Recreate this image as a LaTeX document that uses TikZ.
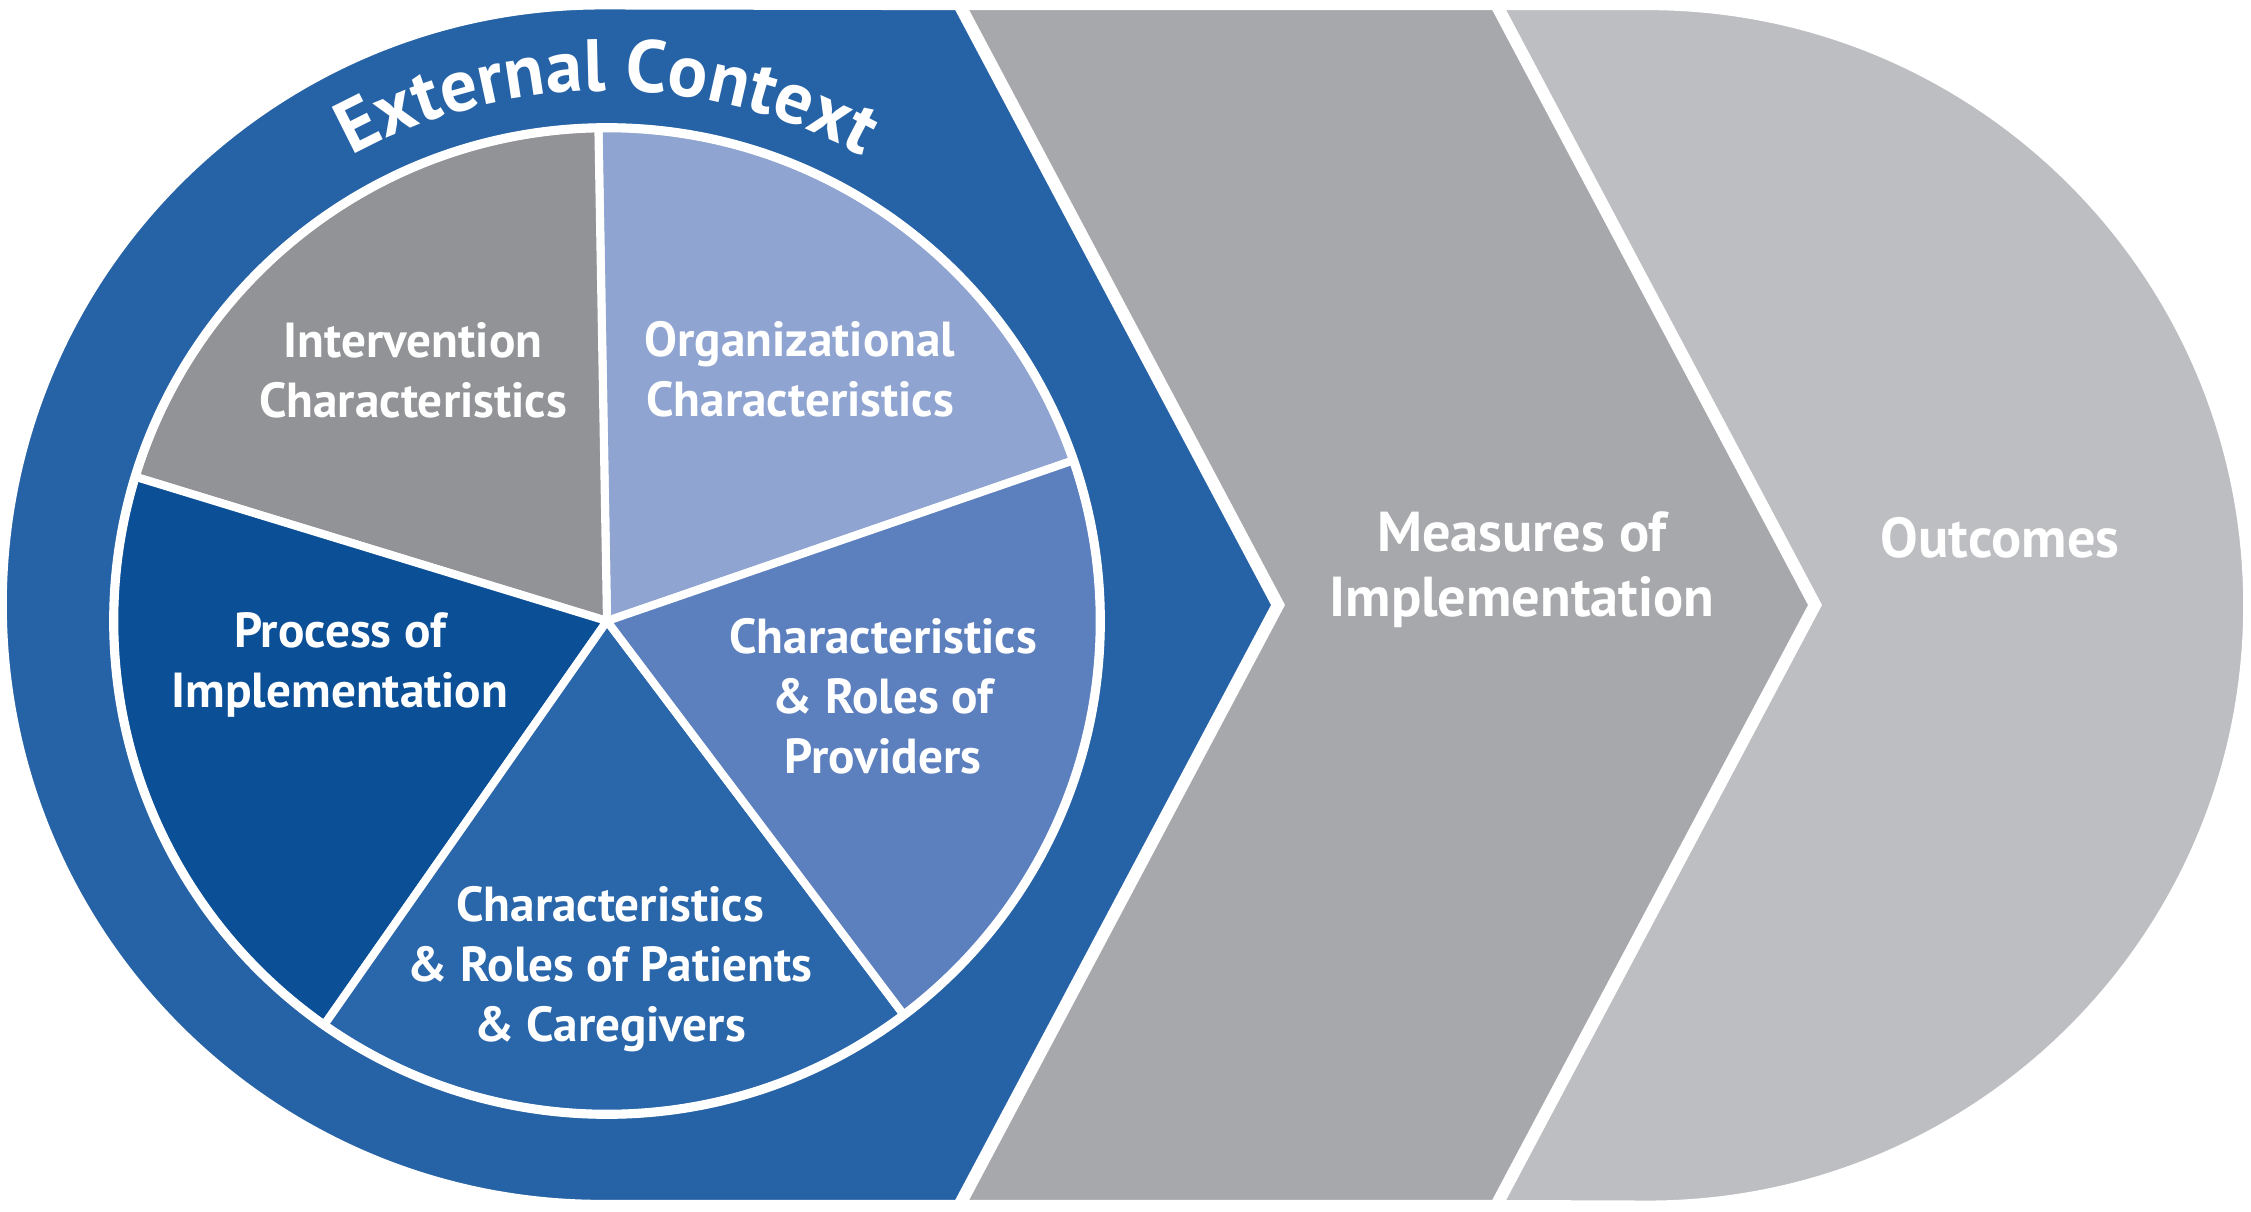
\documentclass[tikz,border=0pt]{standalone}
\usepackage{fontspec}
\setsansfont{PT Sans}
\usetikzlibrary{positioning,decorations.text}

\definecolor{ctxblue}{RGB}{38,99,166}
\definecolor{procblue}{RGB}{11,79,151}
\definecolor{patblue}{RGB}{42,102,170}
\definecolor{provblue}{RGB}{92,127,190}
\definecolor{orgblue}{RGB}{143,164,208}
\definecolor{intvgray}{RGB}{145,147,150}
\definecolor{measgray}{RGB}{167,168,171}
\definecolor{outcgray}{RGB}{189,190,193}

\begin{document}
\begin{tikzpicture}[x=0.01cm,y=0.01cm,
  band/.style={draw=white,line width=3.5pt,line join=miter},
  slice/.style={draw=white,line width=2.3pt},
  slicetext/.style={text=white,font=\sffamily\bfseries\fontsize{14}{17}\selectfont,align=center},
  flowtext/.style={text=white,font=\sffamily\bfseries\fontsize{16}{18.5}\selectfont,align=center}]

  \useasboundingbox (0,0) rectangle (2251,1211);

  % outcomes, measures, external context (back to front)
  \path[band,fill=outcgray] (1470,1207) -- (1648,1207)
    arc[start angle=90,end angle=-90,radius=6.01cm] -- (1470,5) -- cycle;
  \path[band,fill=measgray] (940,1207) -- (1496,1207) -- (1815,606)
    -- (1496,5) -- (940,5) -- cycle;
  \path[band,fill=ctxblue] (959,1207) -- (1278,606) -- (959,5) -- (602,5)
    arc[start angle=-90,end angle=-270,radius=6.01cm] -- cycle;

  % the pie
  \coordinate (c) at (607,590);
  \path[slice,fill=orgblue]  (c) -- ++(19:4.93cm)  arc[start angle=19,end angle=91,radius=4.93cm] -- cycle;
  \path[slice,fill=intvgray] (c) -- ++(91:4.93cm)  arc[start angle=91,end angle=163,radius=4.93cm] -- cycle;
  \path[slice,fill=procblue] (c) -- ++(163:4.93cm) arc[start angle=163,end angle=235,radius=4.93cm] -- cycle;
  \path[slice,fill=patblue]  (c) -- ++(235:4.93cm) arc[start angle=235,end angle=307,radius=4.93cm] -- cycle;
  \path[slice,fill=provblue] (c) -- ++(307:4.93cm) arc[start angle=307,end angle=379,radius=4.93cm] -- cycle;
  \draw[white,line width=2.6pt] (c) circle[radius=4.93cm];

  \path[decorate,decoration={text along path,text align=center,text color=white,
      text={|\sffamily\bfseries\fontsize{21}{25}\selectfont|External Context}}]
    (c) ++(150:5.3cm) arc[start angle=150,end angle=30,radius=5.3cm];

  \node[slicetext] (intv) at (413,841) {Intervention\\Characteristics};
  \node[slicetext] (orgn) at (800,842) {Organizational\\Characteristics};
  \node[slicetext] (proc) at (340,546) {Process of\\Implementation};
  \node[slicetext] (prov) at (883,515) {Characteristics\\\& Roles of\\Providers};
  \node[slicetext] (pat)  at (610,242) {Characteristics\\\& Roles of Patients\\\& Caregivers};

  \node[flowtext] (meas) at (1522,641) {Measures of\\Implementation};
  \node[flowtext] (outc) at (2000,673) {Outcomes};

\end{tikzpicture}
\end{document}
